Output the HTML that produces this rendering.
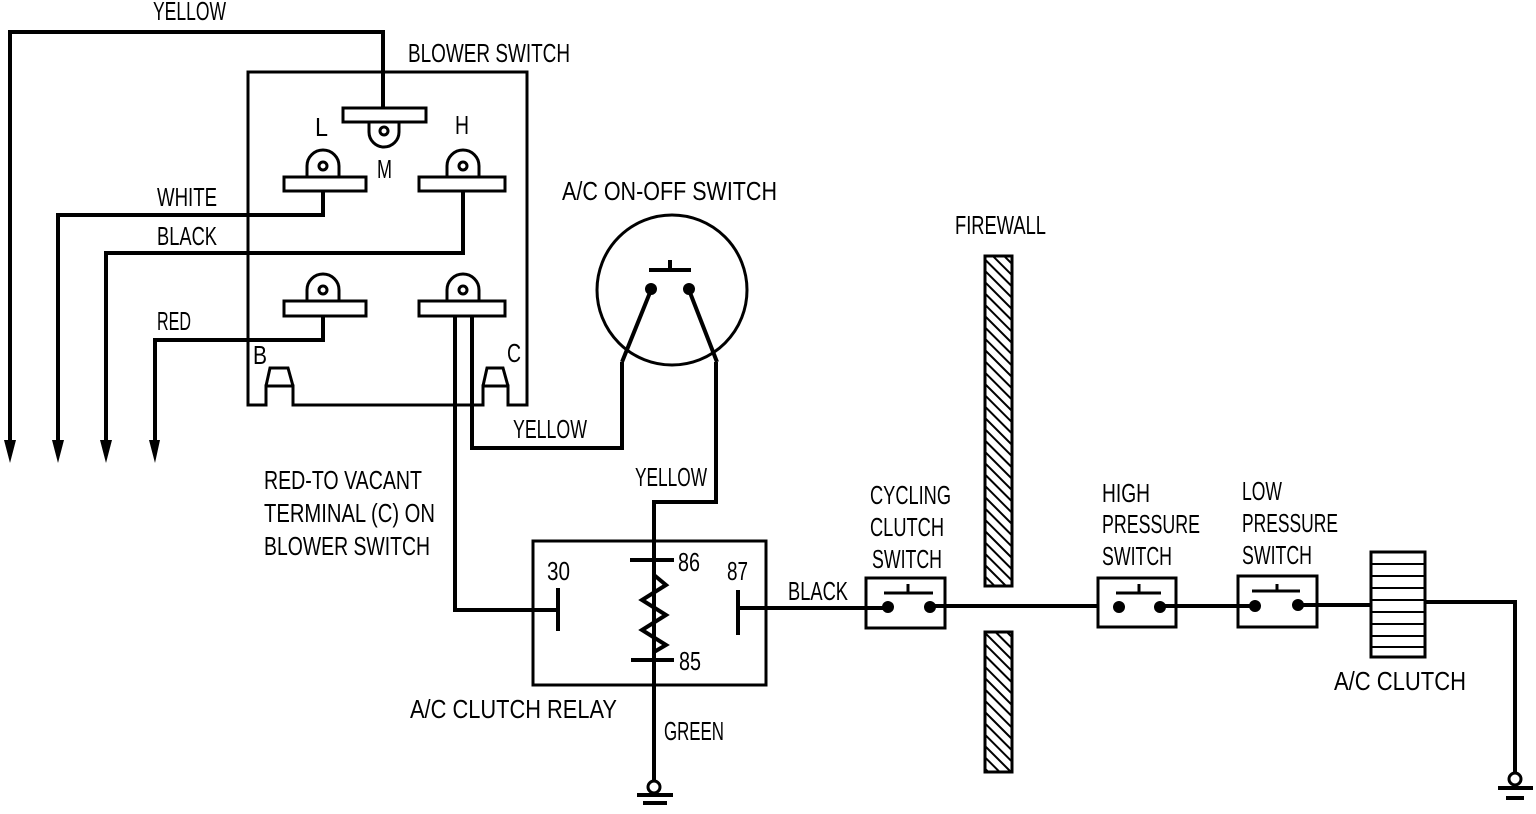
<!DOCTYPE html>
<html><head><meta charset="utf-8"><style>
html,body{margin:0;padding:0;background:#fff;}
svg{display:block}
text{font-family:"Liberation Sans",sans-serif;font-size:26px;fill:#000;}
</style></head><body>
<svg width="1536" height="814" viewBox="0 0 1536 814" xmlns="http://www.w3.org/2000/svg">
<defs>
<pattern id="hatch" width="8" height="8" patternUnits="userSpaceOnUse" patternTransform="rotate(-45)">
<rect width="8" height="8" fill="#fff"/><line x1="0" y1="0" x2="0" y2="8" stroke="#000" stroke-width="4"/>
</pattern>
</defs>
<g fill="none" stroke="#000" stroke-width="4">
<polyline points="10,442 10,32 383,32 383,108"/>
<path d="M248,72 L527,72 L527,405 L508,405 L508,386 L483,386 L483,405 L293,405 L293,386 L266,386 L266,405 L248,405 Z" stroke-width="3"/>
<path d="M483,386 L487,368 L503,368 L508,386" stroke-width="3"/>
<path d="M266,386 L270,368 L288,368 L293,386" stroke-width="3"/>
<rect x="343" y="108" width="83" height="14" stroke-width="3"/>
<path d="M369,122 L369,132 A15,15 0 0 0 399,132 L399,122" stroke-width="3"/>
<circle cx="384" cy="131" r="4" stroke-width="3"/>
<rect x="284" y="177" width="82" height="14" stroke-width="3"/>
<path d="M307,177 L307,166 A16,16 0 0 1 339,166 L339,177" stroke-width="3"/>
<circle cx="323" cy="166" r="4" stroke-width="3"/>
<rect x="419" y="177" width="86" height="14" stroke-width="3"/>
<path d="M447,177 L447,166 A16,16 0 0 1 479,166 L479,177" stroke-width="3"/>
<circle cx="463" cy="166" r="4" stroke-width="3"/>
<rect x="284" y="301" width="82" height="15" stroke-width="3"/>
<path d="M307,301 L307,290 A16,16 0 0 1 339,290 L339,301" stroke-width="3"/>
<circle cx="323" cy="290" r="4" stroke-width="3"/>
<rect x="419" y="301" width="86" height="15" stroke-width="3"/>
<path d="M447,301 L447,290 A16,16 0 0 1 479,290 L479,301" stroke-width="3"/>
<circle cx="463" cy="290" r="4" stroke-width="3"/>
<polyline points="323,191 323,215 58,215 58,442"/>
<polyline points="463,191 463,253 106,253 106,442"/>
<polyline points="323,316 323,340 155,340 155,442"/>
<polyline points="472,316 472,448 622,448 622,362"/>
<polyline points="455,316 455,610 557,610"/>
<circle cx="672" cy="290" r="75" stroke-width="3"/>
<line x1="649" y1="270" x2="691" y2="270"/>
<line x1="670" y1="260" x2="670" y2="270"/>
<line x1="651" y1="290" x2="622" y2="362"/>
<line x1="689" y1="290" x2="717" y2="362"/>
<polyline points="716,362 716,502 654,502 654,780"/>
<rect x="533" y="541" width="233" height="144" stroke-width="3"/>
<line x1="630" y1="560" x2="674" y2="560"/>
<line x1="631" y1="660" x2="674" y2="660"/>
<polyline points="654,575 666,585 642,600 666,615 642,630 666,645 654,652" fill="none"/>
<line x1="558" y1="588" x2="558" y2="631"/>
<line x1="738" y1="590" x2="738" y2="635"/>
<line x1="738" y1="608" x2="888" y2="608"/>
<circle cx="654" cy="787" r="6" stroke-width="3"/>
<line x1="637" y1="795" x2="673" y2="795"/>
<line x1="643" y1="803" x2="667" y2="803"/>
<rect x="866" y="578" width="79" height="50" stroke-width="3"/>
<line x1="884" y1="593" x2="933" y2="593" stroke-width="3"/>
<line x1="908" y1="584" x2="908" y2="593" stroke-width="3"/>
<line x1="930" y1="606" x2="1098" y2="606"/>
<rect x="1098" y="578" width="78" height="49" stroke-width="3"/>
<line x1="1116" y1="593" x2="1161" y2="593" stroke-width="3"/>
<line x1="1139" y1="584" x2="1139" y2="593" stroke-width="3"/>
<line x1="1161" y1="606" x2="1250" y2="606"/>
<rect x="1238" y="576" width="79" height="51" stroke-width="3"/>
<line x1="1252" y1="591" x2="1300" y2="591" stroke-width="3"/>
<line x1="1277" y1="584" x2="1277" y2="591" stroke-width="3"/>
<line x1="1298" y1="605" x2="1371" y2="605"/>
<rect x="1371" y="552" width="54" height="105" stroke-width="3"/>
<polyline points="1425,602 1515,602 1515,773"/>
<circle cx="1515" cy="779" r="6" stroke-width="3"/>
<line x1="1498" y1="788" x2="1533" y2="788"/>
<line x1="1506" y1="798" x2="1524" y2="798"/>
</g>
<g stroke="#000" stroke-width="2">
<line x1="1371" y1="564" x2="1425" y2="564"/><line x1="1371" y1="576" x2="1425" y2="576"/>
<line x1="1371" y1="588" x2="1425" y2="588"/><line x1="1371" y1="600" x2="1425" y2="600"/>
<line x1="1371" y1="612" x2="1425" y2="612"/><line x1="1371" y1="624" x2="1425" y2="624"/>
<line x1="1371" y1="636" x2="1425" y2="636"/><line x1="1371" y1="647" x2="1425" y2="647"/>
</g>
<g fill="#000">
<circle cx="651" cy="289" r="6"/><circle cx="689" cy="289" r="6"/>
<circle cx="888" cy="607" r="6"/><circle cx="930" cy="607" r="6"/>
<circle cx="1119" cy="607" r="6"/><circle cx="1160" cy="607" r="6"/>
<circle cx="1255" cy="606" r="6"/><circle cx="1298" cy="605" r="6"/>
<polygon points="4,440 16,440 10,463"/><polygon points="52,440 64,440 58,463"/>
<polygon points="100,440 112,440 106,463"/><polygon points="149,440 160,440 155,463"/>
</g>
<rect x="985" y="256" width="27" height="330" fill="url(#hatch)" stroke="#000" stroke-width="3"/>
<rect x="985" y="632" width="27" height="140" fill="url(#hatch)" stroke="#000" stroke-width="3"/>
<text x="153" y="20" textLength="73" lengthAdjust="spacingAndGlyphs">YELLOW</text>
<text x="408" y="62" textLength="162" lengthAdjust="spacingAndGlyphs">BLOWER  SWITCH</text>
<text x="315" y="136" textLength="13" lengthAdjust="spacingAndGlyphs">L</text><text x="455" y="134" textLength="14" lengthAdjust="spacingAndGlyphs">H</text><text x="377" y="178" textLength="15" lengthAdjust="spacingAndGlyphs">M</text>
<text x="157" y="206" textLength="60" lengthAdjust="spacingAndGlyphs">WHITE</text>
<text x="157" y="245" textLength="60" lengthAdjust="spacingAndGlyphs">BLACK</text>
<text x="157" y="330" textLength="34" lengthAdjust="spacingAndGlyphs">RED</text>
<text x="253" y="364" textLength="14" lengthAdjust="spacingAndGlyphs">B</text><text x="507" y="362" textLength="14" lengthAdjust="spacingAndGlyphs">C</text>
<text x="562" y="200" textLength="215" lengthAdjust="spacingAndGlyphs">A/C  ON-OFF  SWITCH</text>
<text x="955" y="234" textLength="91" lengthAdjust="spacingAndGlyphs">FIREWALL</text>
<text x="513" y="438" textLength="74" lengthAdjust="spacingAndGlyphs">YELLOW</text>
<text x="635" y="486" textLength="72" lengthAdjust="spacingAndGlyphs">YELLOW</text>
<text x="264" y="489" textLength="158" lengthAdjust="spacingAndGlyphs">RED-TO  VACANT</text>
<text x="264" y="522" textLength="171" lengthAdjust="spacingAndGlyphs">TERMINAL  (C)  ON</text>
<text x="264" y="555" textLength="166" lengthAdjust="spacingAndGlyphs">BLOWER  SWITCH</text>
<text x="547" y="580" textLength="23" lengthAdjust="spacingAndGlyphs">30</text>
<text x="678" y="571" textLength="22" lengthAdjust="spacingAndGlyphs">86</text>
<text x="727" y="580" textLength="21" lengthAdjust="spacingAndGlyphs">87</text>
<text x="679" y="670" textLength="22" lengthAdjust="spacingAndGlyphs">85</text>
<text x="788" y="600" textLength="60" lengthAdjust="spacingAndGlyphs">BLACK</text>
<text x="410" y="718" textLength="207" lengthAdjust="spacingAndGlyphs">A/C  CLUTCH  RELAY</text>
<text x="664" y="740" textLength="60" lengthAdjust="spacingAndGlyphs">GREEN</text>
<text x="870" y="504" textLength="81" lengthAdjust="spacingAndGlyphs">CYCLING</text>
<text x="870" y="536" textLength="74" lengthAdjust="spacingAndGlyphs">CLUTCH</text>
<text x="872" y="568" textLength="70" lengthAdjust="spacingAndGlyphs">SWITCH</text>
<text x="1102" y="502" textLength="48" lengthAdjust="spacingAndGlyphs">HIGH</text>
<text x="1102" y="533" textLength="98" lengthAdjust="spacingAndGlyphs">PRESSURE</text>
<text x="1102" y="565" textLength="70" lengthAdjust="spacingAndGlyphs">SWITCH</text>
<text x="1242" y="500" textLength="40" lengthAdjust="spacingAndGlyphs">LOW</text>
<text x="1242" y="532" textLength="96" lengthAdjust="spacingAndGlyphs">PRESSURE</text>
<text x="1242" y="564" textLength="70" lengthAdjust="spacingAndGlyphs">SWITCH</text>
<text x="1334" y="690" textLength="132" lengthAdjust="spacingAndGlyphs">A/C  CLUTCH</text>
</svg>
</body></html>
